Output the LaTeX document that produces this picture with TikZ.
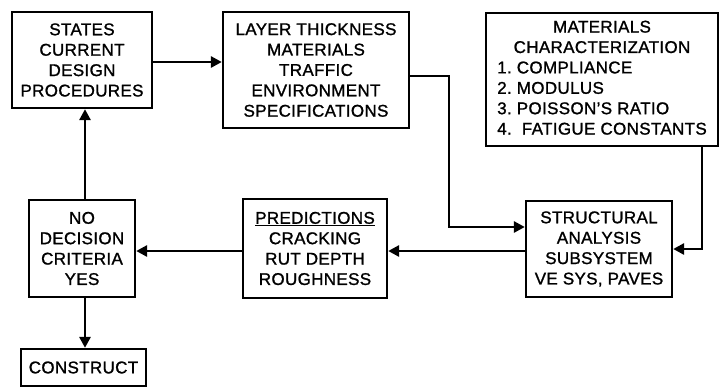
\documentclass[tikz,border=0pt]{standalone}
\usepackage{fontspec}
\setmainfont{Liberation Sans}[FakeBold=1.2,LetterSpace=2]
\usetikzlibrary{arrows.meta}
\begin{document}
\begin{tikzpicture}[x=1pt,y=-1pt,
  box/.style={draw, line width=2.3pt, inner sep=0pt, align=center,
    font=\fontsize{17}{20.4}\selectfont},
  arr/.style={line width=2.8pt, -{Triangle[length=11pt,width=11pt]}}]
\useasboundingbox (0,0) rectangle (722,389);
\node[box, minimum width=140pt, minimum height=96pt] (A) at (82,60)
  {STATES\\CURRENT\\DESIGN\\PROCEDURES};
\node[box, minimum width=186pt, minimum height=116pt] (B) at (316,70)
  {LAYER THICKNESS\\MATERIALS\\TRAFFIC\\ENVIRONMENT\\SPECIFICATIONS};
\node[box, minimum width=232pt, minimum height=133pt] (C) at (602,79.5)
  {\begin{tabular}{@{}l@{}}\multicolumn{1}{@{}c@{}}{MATERIALS}\\
   \multicolumn{1}{@{}c@{}}{CHARACTERIZATION}\\
   1.\ COMPLIANCE\\2.\ MODULUS\\3.\ POISSON’S RATIO\\4.\ \ FATIGUE CONSTANTS\end{tabular}};
\node[box, minimum width=146pt, minimum height=96pt] (D) at (599,249)
  {STRUCTURAL\\ANALYSIS\\SUBSYSTEM\\VE SYS, PAVES};
\node[box, minimum width=144pt, minimum height=99pt] (E) at (315,248.5)
  {\underline{PREDICTIONS}\\CRACKING\\RUT DEPTH\\ROUGHNESS};
\node[box, minimum width=106pt, minimum height=97pt] (F) at (82,248.5)
  {NO\\DECISION\\CRITERIA\\YES};
\node[box, minimum width=125pt, minimum height=37pt] (G) at (83.5,367.5)
  {CONSTRUCT};
\draw[arr] (A.east |- 0,62) -- (B.west |- 0,62);
\draw[arr] (B.east |- 0,76) -| (449,227) -- (D.west |- 0,227);
\draw[arr] (C.south -| 702,0) |- (D.east |- 0,249);
\draw[arr] (D.west |- 0,251) -- (E.east |- 0,251);
\draw[arr] (E.west |- 0,251) -- (F.east |- 0,251);
\draw[arr] (F.north -| 85,0) -- (A.south -| 85,0);
\draw[arr] (F.south -| 85,0) -- (G.north -| 85,0);
\end{tikzpicture}
\end{document}
